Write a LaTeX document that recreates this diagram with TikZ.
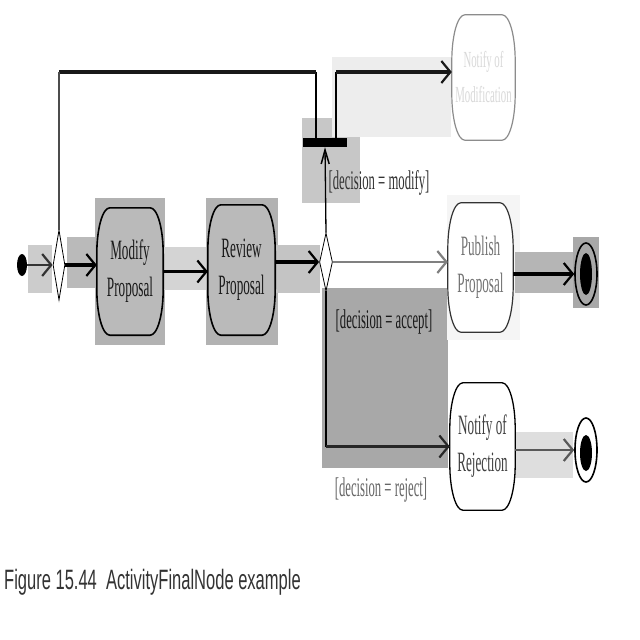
\documentclass[tikz,border=0pt]{standalone}
\usepackage{fontspec}
\setmainfont{Liberation Serif}
\newfontfamily\narrowserif[FakeStretch=0.47]{Liberation Serif}
\newfontfamily\captionsans[FakeStretch=0.59]{Liberation Sans}
\usetikzlibrary{arrows.meta,shapes.geometric}
\pgfdeclarelayer{bg}
\pgfsetlayers{bg,main}

% barrel-like outline of an action: straight edges with elliptical corners
\newcommand\actoutline[2][]{%
  \draw[#1] ([xshift=13pt]#2.north west) -- ([xshift=-13pt]#2.north east)
    arc[start angle=90,end angle=0,x radius=13pt,y radius=46pt]
    -- ([yshift=46pt]#2.south east)
    arc[start angle=0,end angle=-90,x radius=13pt,y radius=46pt]
    -- ([xshift=13pt]#2.south west)
    arc[start angle=270,end angle=180,x radius=13pt,y radius=46pt]
    -- ([yshift=-46pt]#2.north west)
    arc[start angle=180,end angle=90,x radius=13pt,y radius=46pt] -- cycle;}

\begin{document}
\begin{tikzpicture}[x=1pt,y=-1pt,
  act/.style={rectangle,inner sep=0pt,align=center,
    font=\narrowserif\fontsize{28}{37}\selectfont},
  guard/.style={inner sep=0pt,font=\narrowserif\fontsize{27}{30}\selectfont},
  hline/.style={line width=3.2pt,draw=black},
  vline/.style={line width=1.3pt,draw=black},
  harrow/.style={-{Straight Barb[length=9pt,width=22pt,line width=2.2pt]}},
  varrow/.style={-{Straight Barb[length=14pt,width=8pt,line width=1.5pt]}},
  decisionshape/.style={diamond,draw,line width=0.8pt,inner sep=0pt},
  finalring/.style={ellipse,draw,line width=1.6pt,inner sep=0pt,
    minimum width=22pt,minimum height=62pt},
  finaldot/.style={ellipse,fill=black,inner sep=0pt,minimum width=12pt}]
\useasboundingbox (0,0) rectangle (640,640);

% nodes
\node[ellipse,fill=black,inner sep=0pt,minimum width=10pt,minimum height=22pt] (init) at (22,265) {};
\node[decisionshape,minimum width=12pt,minimum height=70pt] (merge) at (59,265) {};
\node[act,minimum width=66pt,minimum height=127pt,text=black!90] (modify) at (130,271.5) {Modify\\Proposal};
\node[act,minimum width=67pt,minimum height=130pt,text=black!90] (review) at (241.5,270) {Review\\Proposal};
\node[decisionshape,minimum width=13pt,minimum height=58pt] (decision) at (326,262) {};
\node[rectangle,fill=black,inner sep=0pt,minimum width=44pt,minimum height=9pt] (fork) at (325,142.5) {};
\node[act,minimum width=63pt,minimum height=125pt,text=black!15,
  font=\narrowserif\fontsize{23}{35}\selectfont] (notifymod) at (483.5,77.5) {Notify of\\Modification};
\node[act,minimum width=65pt,minimum height=129pt,text=black!55] (publish) at (480.5,267.5) {Publish\\Proposal};
\node[act,minimum width=65pt,minimum height=127pt,text=black!75] (rejection) at (482.5,446.5) {Notify of\\Rejection};
\node[finalring] (final1) at (586,274) {};
\node[finaldot,minimum height=42pt] (final1dot) at (586,274) {};
\node[finalring,minimum height=64pt] (final2) at (586,450) {};
\node[finaldot,minimum height=36pt] (final2dot) at (586,453) {};

% guards
\node[guard,text=black!80] (gmodify) at (379,183) {[decision = modify]};
\node[guard,text=black!90] (gaccept) at (384,322) {[decision = accept]};
\node[guard,text=black!60] (greject) at (381,490) {[decision = reject]};

% caption
\node[anchor=west,inner sep=0pt,text=black!80,
  font=\captionsans\fontsize{28}{30}\selectfont] (caption) at (4,582)
  {Figure 15.44\ \ ActivityFinalNode example};

% shaded panels and action outlines
\begin{pgfonlayer}{bg}
  \fill[white] (0,0) rectangle (640,640);
  \fill[black!20] (28,245) rectangle (52,293);
  \fill[black!27] (67,237) rectangle (97,288);
  \fill[black!30] (95,198) rectangle (165,345);
  \fill[black!17] (163,247) rectangle (207,290);
  \fill[black!30] (206,198) rectangle (278,345);
  \fill[black!23] (275,245) rectangle (320,293);
  \fill[black!22] (302,118) rectangle (360,203);
  \fill[black!7] (332,57) rectangle (451,137);
  \fill[black!34] (322,288) rectangle (448,468);
  \fill[black!4] (447,195) rectangle (520,340);
  \fill[black!29] (515,252) rectangle (573,293);
  \fill[black!34] (573,237) rectangle (599,308);
  \fill[black!13] (515,432) rectangle (573,478);
  \actoutline[fill=black!27,line width=1.6pt]{modify}
  \actoutline[fill=black!27,line width=1.6pt]{review}
  \actoutline[fill=white,draw=black!45,line width=1.2pt]{notifymod}
  \actoutline[fill=white,draw=black!80,line width=1.2pt]{publish}
  \actoutline[fill=white,draw=black,line width=1.3pt]{rejection}
\end{pgfonlayer}

% corner points of the routed edges
\coordinate (lt) at (316,72);
\coordinate (lm) at (59,72);
\coordinate (rt) at (336,72);
\coordinate (rc) at (decision.south |- rejection.west);

% edges
\draw[line width=2.5pt,black!80,harrow] (init.east) -- (merge.west);
\draw[hline,harrow] (merge.east) -- (modify.west |- merge.east);
\draw[hline,harrow] (modify.east) -- (review.west |- modify.east);
\draw[hline,harrow] (review.east |- decision.west) -- (decision.west);
\draw[line width=2pt,black!50,harrow] (decision.east) -- (publish.west |- decision.east);
\draw[vline,varrow] (decision.north) -- (fork.south);
\draw[vline] (fork.north -| lt) -- (lt);
\draw[hline,black!90] (lt) -- (lm);
\draw[vline,black!70] (lm) -- (merge.north);
\draw[vline] (fork.north -| rt) -- (rt);
\draw[hline,black!90,harrow] (rt) -- (notifymod.west |- rt);
\draw[vline] (decision.south) -- (rc);
\draw[hline,black!85,harrow] (rc) -- (rejection.west);
\draw[hline,harrow] (publish.east |- final1) -- (final1.west);
\draw[line width=2.8pt,black!65,harrow] (rejection.east |- final2) -- (final2.west);
\end{tikzpicture}
\end{document}
